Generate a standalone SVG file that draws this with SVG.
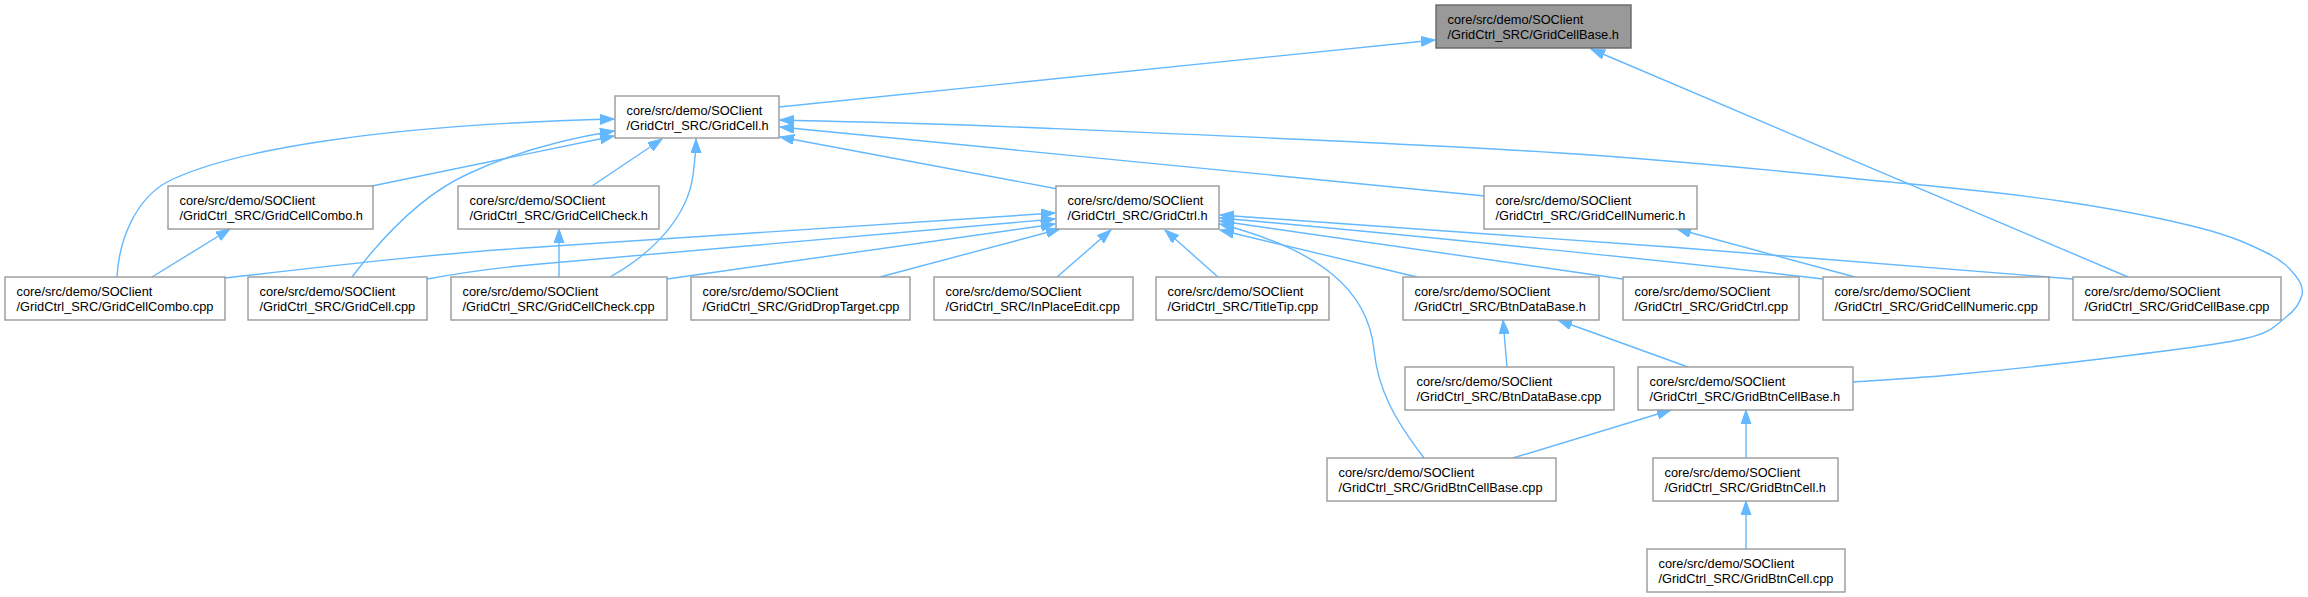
<svg xmlns="http://www.w3.org/2000/svg" width="2308" height="597" viewBox="0 0 2308 597">
<style>
.n rect{fill:#ffffff;stroke:#999999;stroke-width:1.4}
.root rect{fill:#999999;stroke:#666666}
.n text{font-family:"Liberation Sans",Arial,sans-serif;font-size:12.8px;fill:#000000}
.e path{fill:none;stroke:#63b8ff;stroke-width:1.4;marker-end:url(#a)}
</style>
<defs>
<marker id="a" markerUnits="userSpaceOnUse" markerWidth="15" markerHeight="11" refX="14" refY="5" orient="auto">
<path d="M0,0 L14,5 L0,10 z" fill="#63b8ff" stroke="#63b8ff" stroke-width="1"/>
</marker>
</defs>
<rect width="2308" height="597" fill="#ffffff"/>
<g id="connectors" class="e">
<path d="M779,107 L1435,40"/>
<path d="M2128,277 L1591,49"/>
<path d="M372,186 L614,136"/>
<path d="M117,277 C119,240 135,200 167,182 C230,150 380,125 614,119"/>
<path d="M352,277 C380,240 420,195 470,173 C520,150 570,138 614,131"/>
<path d="M592,186 L662,139"/>
<path d="M610,277 C655,252 688,215 693,175 C695,160 696,150 696,139"/>
<path d="M1058,189 L780,137"/>
<path d="M1485,196 L780,127"/>
<path d="M1853,382 C1869.2,380.8 1908.8,378.8 1950,375 C1991.2,371.2 2051.2,365 2100,359 C2148.8,353 2212.2,345.8 2243,339 C2273.8,332.2 2275.2,325.3 2285,318 C2294.8,310.7 2300.3,302.2 2302,295 C2303.7,287.8 2300.8,282 2295,275 C2289.2,268 2282.8,260.8 2267,253 C2251.2,245.2 2233.3,236.5 2200,228 C2166.7,219.5 2117,209.5 2067,202 C2017,194.5 1984.5,191.2 1900,183 C1815.5,174.8 1703.3,162.2 1560,153 C1416.7,143.8 1170,133.5 1040,128 C910,122.5 823.3,121.3 780,120"/>
<path d="M152,277 L230,229"/>
<path d="M559,277 L559,229"/>
<path d="M225,278 C330,266 440,253 540,247 L1055,213"/>
<path d="M427,279 C460,273 490,268 540,264 L1055,219"/>
<path d="M667,279 L1055,224"/>
<path d="M880,277 L1060,229"/>
<path d="M1057,277 L1111,230"/>
<path d="M1218,277 L1165,230"/>
<path d="M1417,277 L1220,230"/>
<path d="M1623,279 L1220,221"/>
<path d="M1823,279 C1700,264 1400,234 1220,218"/>
<path d="M2073,279 C1850,260 1400,226 1220,215"/>
<path d="M1424,458 C1395,420 1378,390 1374,350 C1368,290 1320,250 1220,224"/>
<path d="M1855,277 L1677,229"/>
<path d="M1507,367 L1503,320"/>
<path d="M1688,367 L1558,320"/>
<path d="M1513,458 L1671,410"/>
<path d="M1746,458 L1746,410"/>
<path d="M1746,549 L1746,501"/>
</g>
<g id="GridCellBase_h" class="n root"><rect x="1436" y="5" width="195" height="43"/><text x="1447.5" y="24">core/src/demo/SOClient</text><text x="1447.5" y="39">/GridCtrl_SRC/GridCellBase.h</text></g>
<g id="GridCell_h" class="n"><rect x="615" y="96" width="164" height="42"/><text x="626.5" y="114.5">core/src/demo/SOClient</text><text x="626.5" y="129.5">/GridCtrl_SRC/GridCell.h</text></g>
<g id="GridCellCombo_h" class="n"><rect x="168" y="186" width="205" height="43"/><text x="179.5" y="205">core/src/demo/SOClient</text><text x="179.5" y="220">/GridCtrl_SRC/GridCellCombo.h</text></g>
<g id="GridCellCheck_h" class="n"><rect x="458" y="186" width="201" height="43"/><text x="469.5" y="205">core/src/demo/SOClient</text><text x="469.5" y="220">/GridCtrl_SRC/GridCellCheck.h</text></g>
<g id="GridCtrl_h" class="n"><rect x="1056" y="186" width="163" height="43"/><text x="1067.5" y="205">core/src/demo/SOClient</text><text x="1067.5" y="220">/GridCtrl_SRC/GridCtrl.h</text></g>
<g id="GridCellNumeric_h" class="n"><rect x="1484" y="186" width="213" height="43"/><text x="1495.5" y="205">core/src/demo/SOClient</text><text x="1495.5" y="220">/GridCtrl_SRC/GridCellNumeric.h</text></g>
<g id="GridCellCombo_cpp" class="n"><rect x="5" y="277" width="220" height="43"/><text x="16.5" y="296">core/src/demo/SOClient</text><text x="16.5" y="311">/GridCtrl_SRC/GridCellCombo.cpp</text></g>
<g id="GridCell_cpp" class="n"><rect x="248" y="277" width="179" height="43"/><text x="259.5" y="296">core/src/demo/SOClient</text><text x="259.5" y="311">/GridCtrl_SRC/GridCell.cpp</text></g>
<g id="GridCellCheck_cpp" class="n"><rect x="451" y="277" width="216" height="43"/><text x="462.5" y="296">core/src/demo/SOClient</text><text x="462.5" y="311">/GridCtrl_SRC/GridCellCheck.cpp</text></g>
<g id="GridDropTarget_cpp" class="n"><rect x="691" y="277" width="219" height="43"/><text x="702.5" y="296">core/src/demo/SOClient</text><text x="702.5" y="311">/GridCtrl_SRC/GridDropTarget.cpp</text></g>
<g id="InPlaceEdit_cpp" class="n"><rect x="934" y="277" width="199" height="43"/><text x="945.5" y="296">core/src/demo/SOClient</text><text x="945.5" y="311">/GridCtrl_SRC/InPlaceEdit.cpp</text></g>
<g id="TitleTip_cpp" class="n"><rect x="1156" y="277" width="173" height="43"/><text x="1167.5" y="296">core/src/demo/SOClient</text><text x="1167.5" y="311">/GridCtrl_SRC/TitleTip.cpp</text></g>
<g id="BtnDataBase_h" class="n"><rect x="1403" y="277" width="196" height="43"/><text x="1414.5" y="296">core/src/demo/SOClient</text><text x="1414.5" y="311">/GridCtrl_SRC/BtnDataBase.h</text></g>
<g id="GridCtrl_cpp" class="n"><rect x="1623" y="277" width="176" height="43"/><text x="1634.5" y="296">core/src/demo/SOClient</text><text x="1634.5" y="311">/GridCtrl_SRC/GridCtrl.cpp</text></g>
<g id="GridCellNumeric_cpp" class="n"><rect x="1823" y="277" width="226" height="43"/><text x="1834.5" y="296">core/src/demo/SOClient</text><text x="1834.5" y="311">/GridCtrl_SRC/GridCellNumeric.cpp</text></g>
<g id="GridCellBase_cpp" class="n"><rect x="2073" y="277" width="208" height="43"/><text x="2084.5" y="296">core/src/demo/SOClient</text><text x="2084.5" y="311">/GridCtrl_SRC/GridCellBase.cpp</text></g>
<g id="BtnDataBase_cpp" class="n"><rect x="1405" y="367" width="209" height="43"/><text x="1416.5" y="386">core/src/demo/SOClient</text><text x="1416.5" y="401">/GridCtrl_SRC/BtnDataBase.cpp</text></g>
<g id="GridBtnCellBase_h" class="n"><rect x="1638" y="367" width="215" height="43"/><text x="1649.5" y="386">core/src/demo/SOClient</text><text x="1649.5" y="401">/GridCtrl_SRC/GridBtnCellBase.h</text></g>
<g id="GridBtnCellBase_cpp" class="n"><rect x="1327" y="458" width="229" height="43"/><text x="1338.5" y="477">core/src/demo/SOClient</text><text x="1338.5" y="492">/GridCtrl_SRC/GridBtnCellBase.cpp</text></g>
<g id="GridBtnCell_h" class="n"><rect x="1653" y="458" width="185" height="43"/><text x="1664.5" y="477">core/src/demo/SOClient</text><text x="1664.5" y="492">/GridCtrl_SRC/GridBtnCell.h</text></g>
<g id="GridBtnCell_cpp" class="n"><rect x="1647" y="549" width="198" height="43"/><text x="1658.5" y="568">core/src/demo/SOClient</text><text x="1658.5" y="583">/GridCtrl_SRC/GridBtnCell.cpp</text></g>
</svg>
